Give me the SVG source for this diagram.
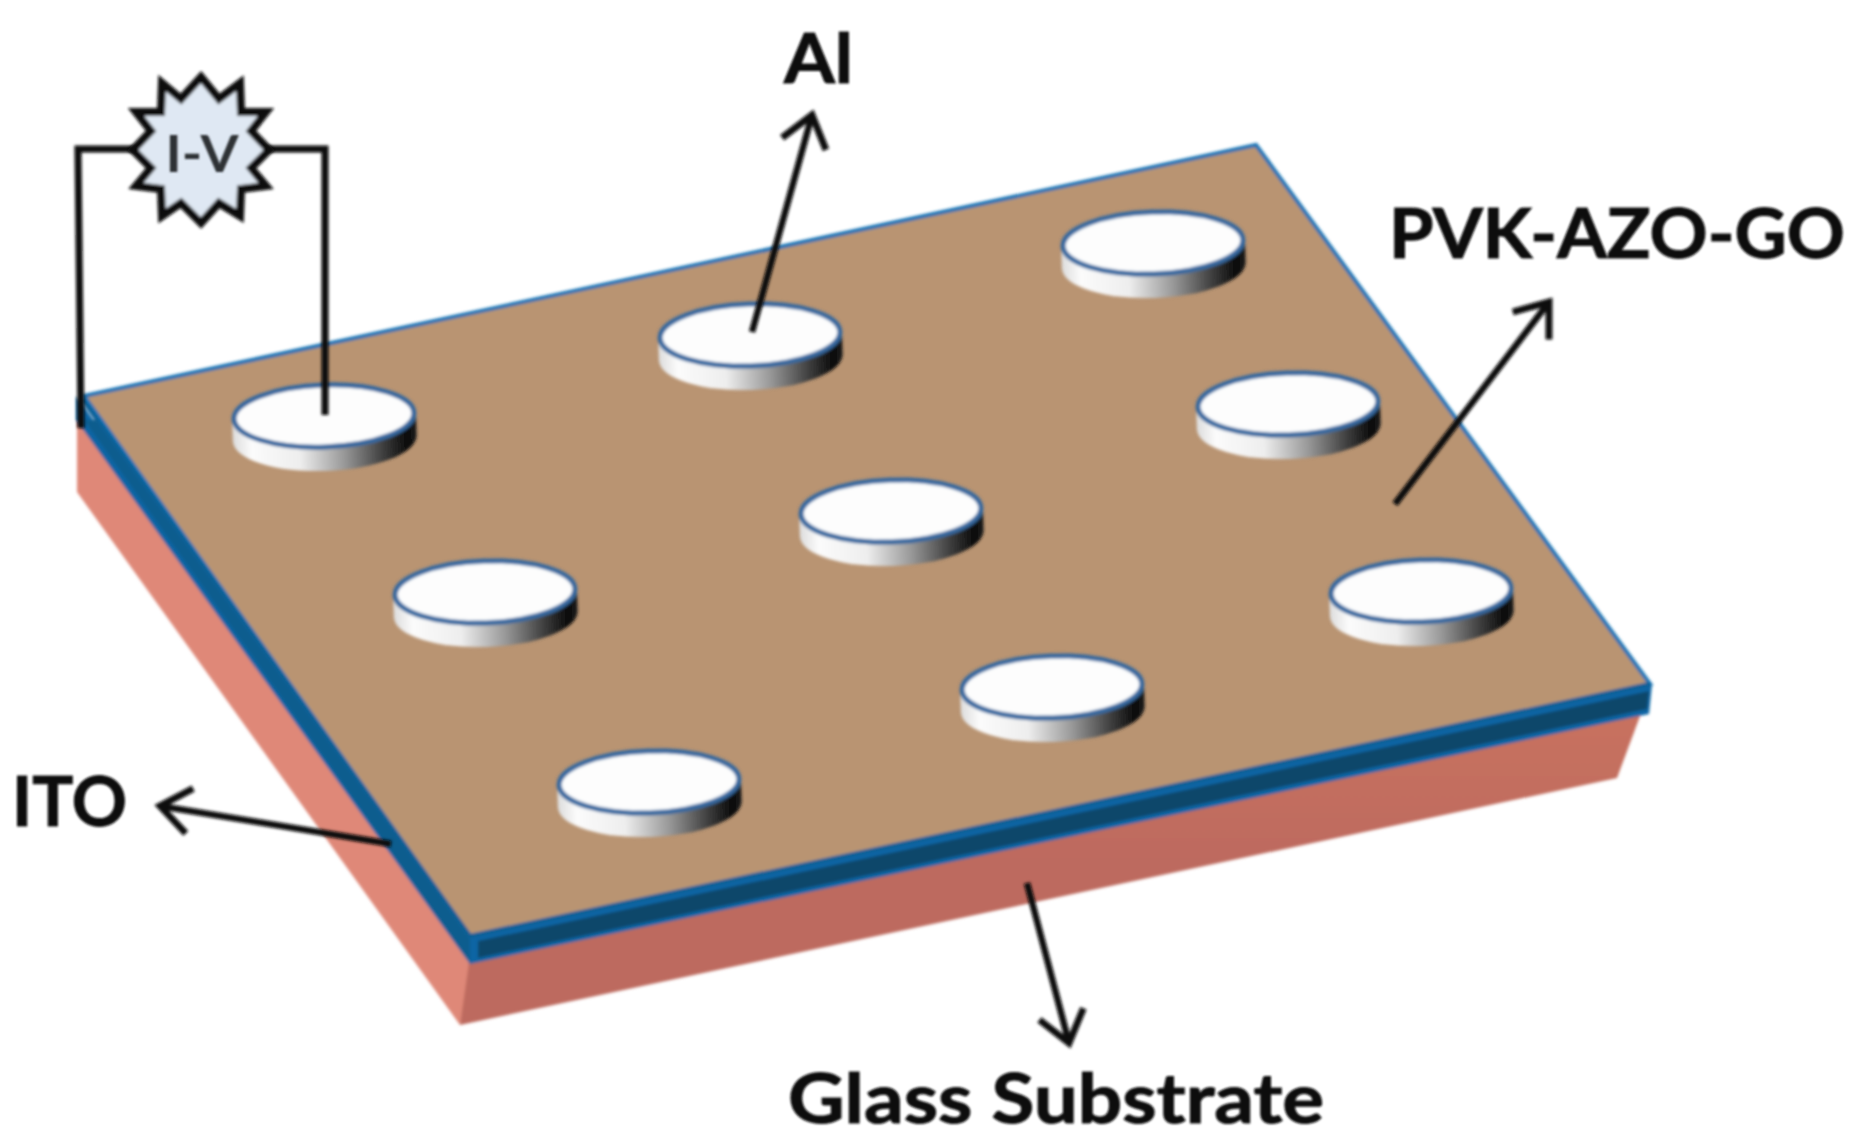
<svg xmlns="http://www.w3.org/2000/svg" xmlns:xlink="http://www.w3.org/1999/xlink" width="1857" height="1148" viewBox="0 0 1857 1148">
<style>
text{font-family:"Lato","Open Sans","Liberation Sans",sans-serif;font-weight:700;fill:#111;stroke:#111;stroke-width:1}
.wire{fill:none;stroke:#0c0c0c;stroke-width:7;stroke-linejoin:miter}
.arrow{fill:none;stroke:#0c0c0c;stroke-width:6.5;marker-end:url(#chev)}
</style>
<defs>
<filter id="soft" x="-5%" y="-5%" width="110%" height="110%"><feGaussianBlur stdDeviation="1.6"/></filter>
<filter id="softText" x="-5%" y="-20%" width="110%" height="140%"><feGaussianBlur stdDeviation="1.1"/></filter>
<linearGradient id="side" x1="0" x2="1" y1="0" y2="0">
<stop offset="0" stop-color="#dcdcdc"/><stop offset="0.1" stop-color="#fbfbfb"/><stop offset="0.36" stop-color="#eee"/><stop offset="0.6" stop-color="#999"/><stop offset="0.82" stop-color="#3c3c3c"/><stop offset="0.95" stop-color="#0a0a0a"/><stop offset="1" stop-color="#1c1c1c"/>
</linearGradient>
<linearGradient id="front" x1="0" x2="0" y1="0" y2="1">
<stop offset="0" stop-color="#c9725f"/><stop offset="0.5" stop-color="#bd6a5e"/><stop offset="1" stop-color="#bd6a5e"/>
</linearGradient>
<marker id="chev" viewBox="-7 -6 9 12" refX="0" refY="0" markerWidth="9" markerHeight="12" orient="auto" markerUnits="strokeWidth">
<path d="M-4.6,-3.5 L0,0 L-4.6,3.5" fill="none" stroke="#0c0c0c" stroke-width="1.05"/>
</marker>
<g id="disc">
<path d="M-92,0 A92,33 0 0 1 92,0 L92,22 A92,33 0 0 1 -92,22 Z" fill="url(#side)"/>
<ellipse cx="0" cy="0" rx="90" ry="31" fill="#fdfdfd" stroke="#35689f" stroke-width="5"/>
</g>
</defs>
<rect width="1857" height="1148" fill="#fff"/>
<g id="slab" filter="url(#soft)">
<path d="M77,415 L475,950 L460,1025 L77,492 Z" fill="#df8878"/>
<path d="M470,955 L1646,700 L1617,778 L460,1025 Z" fill="url(#front)"/>
<path d="M76,396 L470,936 L1652,684 L1649,714 L470,964 L76,420 Z" fill="#0b65a4"/>
<path d="M478,941 L1649,691 L1647,709 L478,958 Z" fill="#07466b"/>
<path d="M100,420 L470,936 L470,962 L84,420 Z" fill="#0d5d8e"/>
<path d="M84,396 L1256,145 L1650,684 L470,936 Z" fill="#b99472" stroke="#1272b4" stroke-width="4"/>
<path d="M82,399 L470,936 L1650,684" fill="none" stroke="#0c5f94" stroke-width="4"/>
</g>
<g id="discs" filter="url(#soft)">
<use xlink:href="#disc" href="#disc" transform="translate(324,416) rotate(-2)"/>
<use xlink:href="#disc" href="#disc" transform="translate(750,335) rotate(-2)"/>
<use xlink:href="#disc" href="#disc" transform="translate(1153,243) rotate(-2)"/>
<use xlink:href="#disc" href="#disc" transform="translate(1288,404) rotate(-2)"/>
<use xlink:href="#disc" href="#disc" transform="translate(891,511) rotate(-2)"/>
<use xlink:href="#disc" href="#disc" transform="translate(485,592) rotate(-2)"/>
<use xlink:href="#disc" href="#disc" transform="translate(1421,591) rotate(-2)"/>
<use xlink:href="#disc" href="#disc" transform="translate(1052,687) rotate(-2)"/>
<use xlink:href="#disc" href="#disc" transform="translate(649,782) rotate(-2)"/>
</g>
<g id="connectors" filter="url(#soft)">
<path class="wire" d="M81,428 L78,149 L140,149"/>
<path class="wire" d="M325,415 L325,149 L262,149"/>
<path class="arrow" d="M752,332 L812,115"/>
<path class="arrow" d="M1395,504 L1549,302"/>
<path class="arrow" d="M391,844 L160,806"/>
<path class="arrow" d="M1027,883 L1069,1043"/>
</g>
<g id="iv" filter="url(#soft)">
<polygon points="201,77 219,99 240,83 241,112 266,112 251,131 269,150 251,168 266,186 241,189 240,216 219,203 201,223 181,203 162,216 161,189 136,186 151,168 133,150 151,131 136,112 161,112 162,83 181,99" fill="#dfe8f3" stroke="#0c0c0c" stroke-width="8" stroke-linejoin="miter"/>
</g>
<g id="labels" filter="url(#softText)">
<text x="202" y="172" font-size="52" text-anchor="middle" style="fill:#2e3236;font-weight:700;stroke:none" textLength="73" lengthAdjust="spacingAndGlyphs">I-V</text>
<text x="784" y="83" font-size="68" textLength="69" lengthAdjust="spacingAndGlyphs">Al</text>
<text x="1389" y="258" font-size="68" textLength="456" lengthAdjust="spacingAndGlyphs">PVK-AZO-GO</text>
<text x="12" y="826" font-size="68" textLength="115" lengthAdjust="spacingAndGlyphs">ITO</text>
<text x="788" y="1123" font-size="68" textLength="536" lengthAdjust="spacingAndGlyphs">Glass Substrate</text>
</g>
</svg>
